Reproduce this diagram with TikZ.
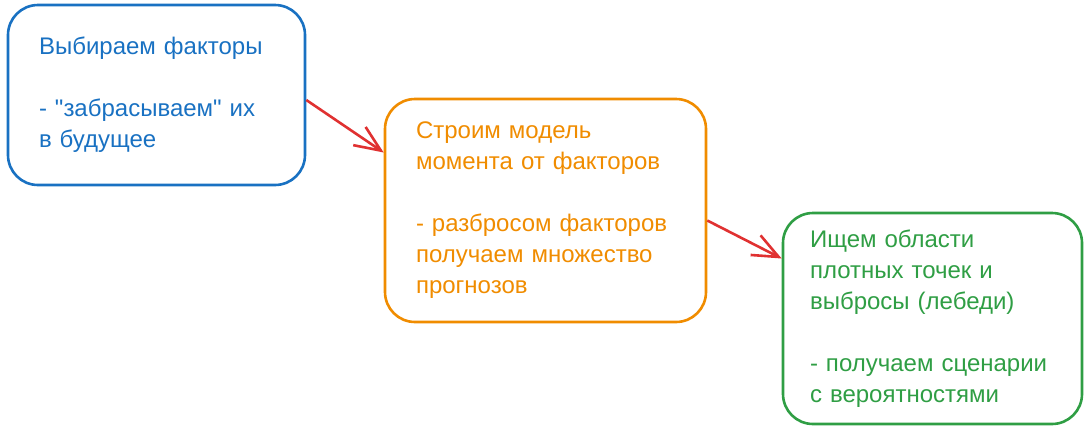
\documentclass[tikz,border=0pt]{standalone}
\usepackage{fontspec}
\setmainfont{Liberation Sans}
\usetikzlibrary{arrows.meta}
\definecolor{boxblue}{HTML}{1971C2}
\definecolor{boxorange}{HTML}{F08C00}
\definecolor{boxgreen}{HTML}{2F9E44}
\definecolor{arrred}{HTML}{E03131}
\begin{document}
\begin{tikzpicture}[x=1pt,y=-1pt,>={Straight Barb[length=26pt,width=22pt]},
  stage/.style={draw=#1, text=#1, line width=2.6pt, rounded corners=30pt,
    align=left, inner xsep=31pt, font=\fontsize{24}{31}\selectfont},
  flow/.style={->, draw=arrred, line width=2.6pt}]
\useasboundingbox (0,0) rectangle (1092,432);

\node(Pick)[stage=boxblue, text width=235pt, minimum height=180pt] at (156.5,95)
  {Выбираем факторы\\[31pt]- \textquotedbl забрасываем\textquotedbl{} их\\в будущее};
\node(Model)[stage=boxorange, text width=259pt, minimum height=223pt] at (545.5,210.5)
  {Строим модель\\момента от факторов\\[31pt]- разбросом факторов\\получаем множество\\прогнозов};
\node(Scen)[stage=boxgreen, text width=245pt, inner xsep=27pt, minimum height=211pt] at (932.5,318.5)
  {Ищем области\\плотных точек и\\выбросы (лебеди)\\[31pt]- получаем сценарии\\с вероятностями};

\draw ([yshift=-5pt]Pick.east) edge[flow] ([yshift=58pt]Model.west);
\draw ([yshift=-10pt]Model.east) edge[flow] ([yshift=60pt]Scen.west);
\end{tikzpicture}
\end{document}
